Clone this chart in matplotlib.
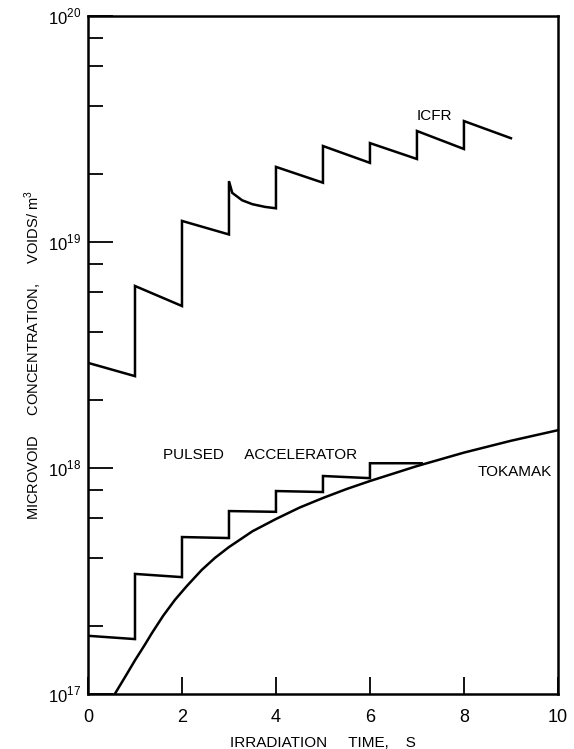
import matplotlib
matplotlib.use("Agg")
import matplotlib.pyplot as plt
from matplotlib.ticker import FixedLocator, LogLocator, NullFormatter

plt.rcParams['font.family'] = ['Liberation Sans Narrow', 'Liberation Sans', 'DejaVu Sans']
plt.rcParams['mathtext.fontset'] = 'custom'
plt.rcParams['mathtext.rm'] = 'Liberation Sans'

# ICFR sawtooth (jumps at each second)
icfr_t = [0.0, 1.0, 1.0, 2.0, 2.0, 3.0, 3.0, 3.07, 3.28, 3.5, 3.77, 4.0, 4.0,
          5.0, 5.0, 6.0, 6.0, 7.0, 7.0, 8.0, 8.0, 9.0]
icfr_v = [2.92e18, 2.55e18, 6.39e18, 5.21e18, 1.24e19, 1.08e19, 1.86e19, 1.65e19,
          1.53e19, 1.47e19, 1.43e19, 1.41e19, 2.15e19, 1.83e19, 2.66e19, 2.24e19,
          2.74e19, 2.33e19, 3.10e19, 2.58e19, 3.43e19, 2.88e19]

# pulsed accelerator staircase
pulsed_t = [0.0, 1.0, 1.0, 2.0, 2.0, 3.0, 3.0, 4.0, 4.0, 5.0, 5.0, 6.0, 6.0, 7.1]
pulsed_v = [1.81e17, 1.75e17, 3.40e17, 3.29e17, 4.95e17, 4.90e17, 6.45e17, 6.40e17,
            7.91e17, 7.83e17, 9.22e17, 9.02e17, 1.05e18, 1.05e18]

# tokamak smooth build-up
tok_t = [0.57, 0.8, 1.0, 1.2, 1.36, 1.6, 1.85, 2.1, 2.42, 2.7, 3.0, 3.5, 4.0, 4.5,
         5.0, 5.5, 6.0, 7.0, 8.0, 9.0, 10.0]
tok_v = [1.0e17, 1.2e17, 1.41e17, 1.64e17, 1.86e17, 2.22e17, 2.61e17, 3.0e17,
         3.54e17, 4.0e17, 4.47e17, 5.25e17, 5.95e17, 6.68e17, 7.37e17, 8.07e17,
         8.76e17, 1.02e18, 1.17e18, 1.32e18, 1.47e18]

x_ticks = [0, 2, 4, 6, 8, 10]
x_labels = ['0', '2', '4', '6', '8', '10']
y_ticks = [1e17, 1e18, 1e19, 1e20]
y_labels = ['$10^{17}$', '$10^{18}$', '$10^{19}$', '$10^{20}$']

fig = plt.figure(figsize=(5.74, 7.49), dpi=100)
ax = fig.add_axes([0.1533, 0.0734, 0.8187, 0.9052])

lw = 1.8
ax.plot(icfr_t, icfr_v, color='black', lw=lw, solid_joinstyle='miter')
ax.plot(pulsed_t, pulsed_v, color='black', lw=lw, solid_joinstyle='miter')
ax.plot(tok_t, tok_v, color='black', lw=lw)

ax.set_yscale('log')
ax.set_xlim(0, 10)
ax.set_ylim(1e17, 1e20)

ax.xaxis.set_major_locator(FixedLocator(x_ticks))
ax.set_xticklabels(x_labels)
ax.yaxis.set_major_locator(FixedLocator(y_ticks))
ax.set_yticklabels(y_labels)
ax.yaxis.set_minor_locator(LogLocator(base=10, subs=[2, 4, 6, 8]))
ax.yaxis.set_minor_formatter(NullFormatter())

ax.tick_params(axis='x', which='major', direction='in', length=12, width=1.3,
               labelsize=13, pad=11)
ax.tick_params(axis='y', which='major', direction='in', length=18, width=1.3,
               labelsize=12, pad=5)
ax.tick_params(axis='y', which='minor', direction='in', length=11, width=1.3)
for s in ax.spines.values():
    s.set_linewidth(1.8)

ax.set_xlabel('IRRADIATION     TIME,    S', fontsize=11, labelpad=7)
ax.set_ylabel('MICROVOID     CONCENTRATION,     VOIDS/ m$^3$', fontsize=10.5, labelpad=3)

ax.text(7.0, 3.6e19, 'ICFR', fontsize=11, ha='left', va='center')
ax.text(1.6, 1.14e18, 'PULSED     ACCELERATOR', fontsize=11, ha='left', va='center')
ax.text(8.3, 9.6e17, 'TOKAMAK', fontsize=11, ha='left', va='center')

fig.savefig('out.png', dpi=100)
